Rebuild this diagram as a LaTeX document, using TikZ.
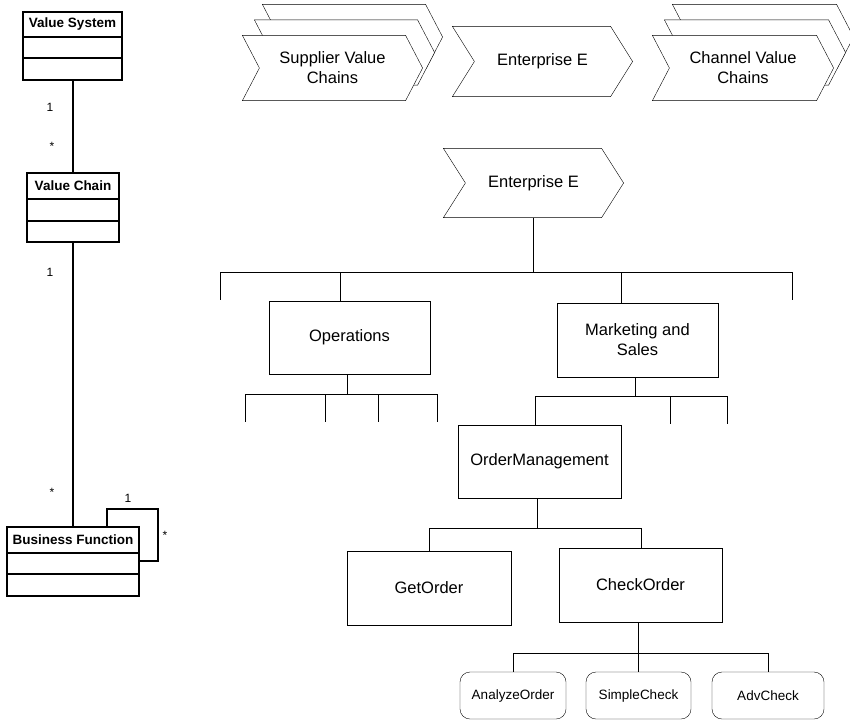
\documentclass[tikz,border=0pt]{standalone}
\usepackage{fontspec}
\setmainfont{Liberation Sans}
\newcommand\bigf{\fontsize{16.5}{20}\selectfont}
\newcommand\midf{\fontsize{13.5}{16}\selectfont}
\newcommand\lblf{\fontsize{12}{14}\selectfont}
% chevron outline around node #1, notch/tip depth #2, offset (#3,#4)
\newcommand\chevpath[4]{([shift={(#3,#4)}]#1.north west) -- ([shift={(#3-#2,#4)}]#1.north east) -- ([shift={(#3,#4)}]#1.east) -- ([shift={(#3-#2,#4)}]#1.south east) -- ([shift={(#3,#4)}]#1.south west) -- ([shift={(#3+#2,#4)}]#1.west) -- cycle}
\pgfdeclarelayer{bg}
\pgfsetlayers{bg,main}
\begin{document}
\begin{tikzpicture}[x=1pt,y=-1pt,line width=1.2pt,
  chev/.style={rectangle,inner sep=0pt,align=center,font=\bigf},
  proc/.style={draw,rectangle,fill=white,inner sep=0pt,align=center,font=\bigf},
  leaf/.style={draw,rectangle,rounded corners=10pt,fill=white,inner sep=0pt,align=center,font=\midf},
  umlbox/.style={draw,rectangle,fill=white,inner sep=0pt},
  umltitle/.style={inner sep=0pt,font=\midf\bfseries},
  mult/.style={inner sep=0pt,font=\lblf}]
\useasboundingbox (0,0) rectangle (850,721);
\clip (0,0) rectangle (850,721);

% ---------- UML side ----------
\node[umlbox,minimum width=99pt,minimum height=68pt] (vs) at (72.5,46) {};
\node[umltitle] (vst) at (72.5,24.5) {Value System};
\draw (vs.west |- 0,37) -- (vs.east |- 0,37);
\draw (vs.west |- 0,58) -- (vs.east |- 0,58);

\node[umlbox,minimum width=92pt,minimum height=69pt] (vc) at (73,207.5) {};
\node[umltitle] (vct) at (73,186) {Value Chain};
\draw (vc.west |- 0,199) -- (vc.east |- 0,199);
\draw (vc.west |- 0,221) -- (vc.east |- 0,221);

\node[umlbox,minimum width=132pt,minimum height=69pt] (bf) at (73,561.5) {};
\node[umltitle] (bft) at (73,540) {Business Function};
\draw (bf.west |- 0,553) -- (bf.east |- 0,553);
\draw (bf.west |- 0,574) -- (bf.east |- 0,574);

\draw (vs.south -| vc.north) -- (vc.north);
\draw (vc.south) -- (bf.north);
\coordinate (la) at (107,509);
\coordinate (lb) at (158,561);
\draw (la |- bf.north) -- (la) -| (lb) -- (lb -| bf.east);

\node[mult] (m1) at (50,107) {1};
\node[mult] (m2) at (52,146) {*};
\node[mult] (m3) at (50,272) {1};
\node[mult] (m4) at (52,492) {*};
\node[mult] (m5) at (128,498) {1};
\node[mult] (m6) at (165,535) {*};

% ---------- value system chevrons ----------
\node[chev,minimum width=179pt,minimum height=64pt] (sup) at (332.5,68) {Supplier Value\\Chains};
\node[chev,minimum width=179pt,minimum height=69pt] (ent1) at (542.5,61.5) {Enterprise E};
\node[chev,minimum width=180pt,minimum height=64pt] (chan) at (743,68) {Channel Value\\Chains};
\node[chev,minimum width=179pt,minimum height=68pt] (ent2) at (533.5,183) {Enterprise E};
\begin{pgfonlayer}{bg}
\draw[fill=white] \chevpath{sup}{17}{20}{-31};
\draw[fill=white] \chevpath{sup}{17}{12}{-15.5};
\draw[fill=white] \chevpath{sup}{17}{0}{0};
\draw[fill=white] \chevpath{ent1}{22}{0}{0};
\draw[fill=white] \chevpath{chan}{17}{20}{-31};
\draw[fill=white] \chevpath{chan}{17}{12}{-15.5};
\draw[fill=white] \chevpath{chan}{17}{0}{0};
\draw[fill=white] \chevpath{ent2}{22}{0}{0};
\end{pgfonlayer}

% ---------- function tree ----------
\node[proc,minimum width=161pt,minimum height=73pt] (ops) at (349.5,337.5) {Operations};
\node[proc,minimum width=161pt,minimum height=74pt] (mkt) at (637.5,340) {Marketing and\\Sales};
\node[proc,minimum width=163pt,minimum height=73pt] (om) at (539.5,461.5) {OrderManagement};
\node[proc,minimum width=164pt,minimum height=74pt] (go) at (429,588) {GetOrder};
\node[proc,minimum width=163pt,minimum height=74pt] (co) at (640.5,585) {CheckOrder};
\node[leaf,minimum width=106pt,minimum height=47pt] (ao) at (513,695.5) {AnalyzeOrder};
\node[leaf,minimum width=105pt,minimum height=47pt] (sc) at (638.5,695.5) {SimpleCheck};
\node[leaf,minimum width=112pt,minimum height=47pt] (ac) at (768,695.5) {AdvCheck};

% level 1 bus
\coordinate (t0) at (533.5,272);
\coordinate (tl) at (220,272);
\coordinate (tr) at (792,272);
\coordinate (to) at (340,272);
\coordinate (tm) at (621,272);
\draw (ent2.south) -- (t0);
\draw (tl) -- (tr);
\draw (tl) -- ++(0,28);
\draw (tr) -- ++(0,28);
\draw (to) -- (to |- ops.north);
\draw (tm) -- (tm |- mkt.north);

% operations bus
\coordinate (o0) at (347,394);
\draw (o0 |- ops.south) -- (o0);
\coordinate (o1) at (245,394);
\coordinate (o2) at (325,394);
\coordinate (o3) at (378,394);
\coordinate (o4) at (437,394);
\draw (o1) -- (o4);
\foreach \c in {o1,o2,o3,o4} \draw (\c) -- ++(0,28);

% marketing bus
\coordinate (k0) at (635,396);
\draw (k0 |- mkt.south) -- (k0);
\coordinate (k1) at (535,396);
\coordinate (k2) at (670,396);
\coordinate (k3) at (727,396);
\draw (k1) -- (k3);
\draw (k1) -- (k1 |- om.north);
\draw (k2) -- ++(0,28);
\draw (k3) -- ++(0,28);

% order management bus
\coordinate (g0) at (537,528);
\coordinate (g1) at (429,528);
\coordinate (g2) at (641,528);
\draw (g0 |- om.south) -- (g0);
\draw (g1) -- (g2);
\draw (g1) -- (go.north);
\draw (g2) -- (g2 |- co.north);

% check order bus
\coordinate (c0) at (638,653);
\coordinate (c1) at (513,653);
\coordinate (c3) at (768,653);
\draw (c0 |- co.south) -- (c0);
\draw (c1) -- (c3);
\draw (c1) -- (ao.north);
\draw (c0) -- (c0 |- sc.north);
\draw (c3) -- (ac.north);
\end{tikzpicture}
\end{document}
